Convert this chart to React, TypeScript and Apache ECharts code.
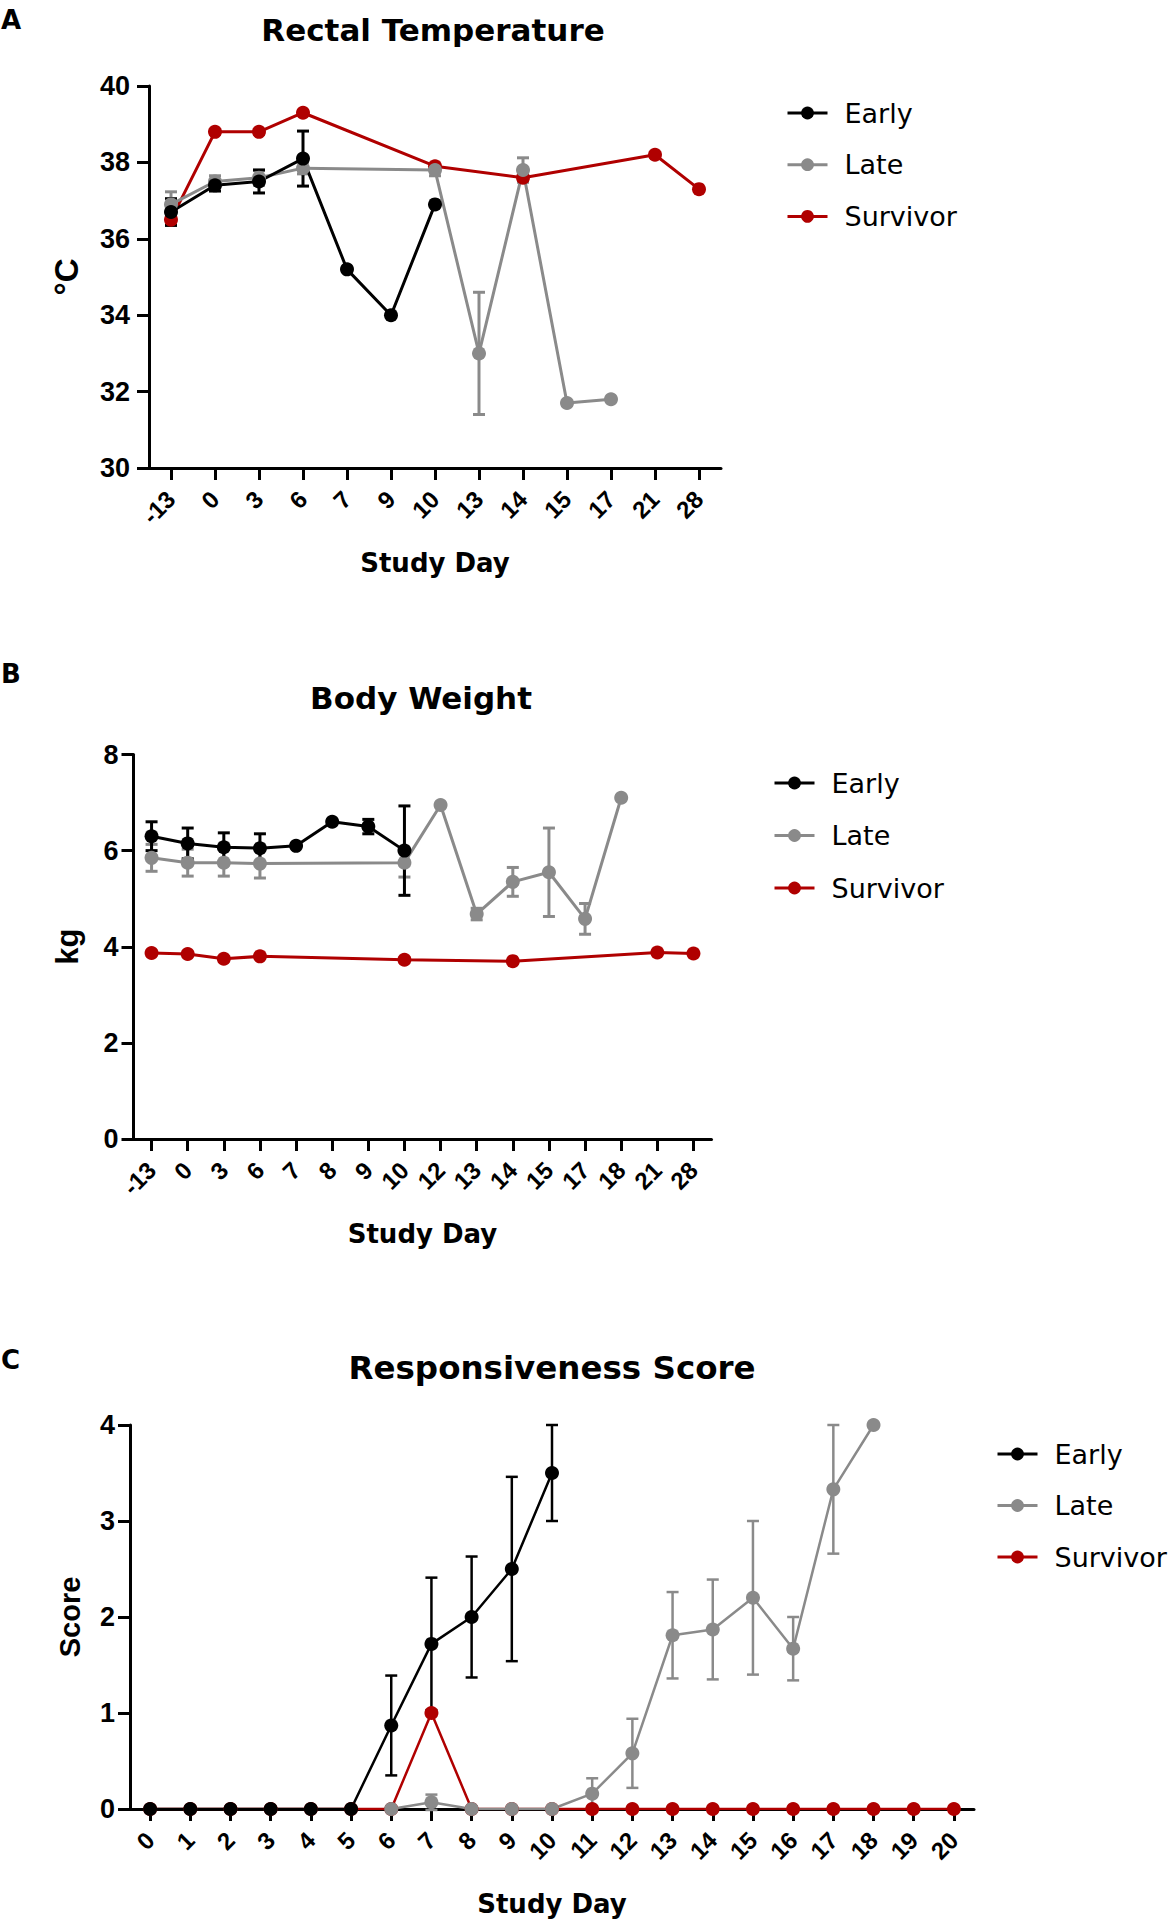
import React, { useEffect, useRef } from 'react';
import * as echarts from 'echarts';

// ---------- Panel A: Rectal Temperature ----------
const tempDays = ['-13', '0', '3', '6', '7', '9', '10', '13', '14', '15', '17', '21', '28'];
const tempEarly = [36.7, 37.4, 37.5, 38.1, 35.2, 34.0, 36.9, null, null, null, null, null, null];
const tempEarlyErr = [0.35, 0.15, 0.3, 0.72, null, null, null, null, null, null, null, null, null];
const tempLate = [36.9, 37.5, 37.6, 37.85, null, null, 37.8, 33.0, 37.8, 31.7, 31.8, null, null];
const tempLateErr = [0.33, 0.15, 0.2, 0.15, null, null, 0.15, 1.6, 0.32, null, null, null, null];
const tempSurvivor = [36.5, 38.8, 38.8, 39.3, null, null, 37.9, null, 37.6, null, null, 38.2, 37.3];

// ---------- Panel B: Body Weight ----------
const weightDays = ['-13', '0', '3', '6', '7', '8', '9', '10', '12', '13', '14', '15', '17', '18', '21', '28'];
const weightEarly = [6.3, 6.15, 6.07, 6.05, 6.1, 6.6, 6.5, 6.0, null, null, null, null, null, null, null, null];
const weightEarlyErr = [0.3, 0.32, 0.3, 0.3, null, null, 0.15, 0.93, null, null, null, null, null, null, null, null];
const weightLate = [5.85, 5.75, 5.75, 5.73, null, null, null, 5.75, 6.95, 4.68, 5.35, 5.55, 4.58, 7.1, null, null];
const weightLateErr = [0.28, 0.28, 0.28, 0.3, null, null, null, 0.3, null, 0.12, 0.3, 0.92, 0.32, null, null, null];
const weightSurvivor = [3.87, 3.85, 3.75, 3.8, null, null, null, 3.73, null, null, 3.7, null, null, null, 3.88, 3.86];

// ---------- Panel C: Responsiveness Score ----------
const scoreDays = ['0', '1', '2', '3', '4', '5', '6', '7', '8', '9', '10', '11', '12', '13', '14', '15', '16', '17', '18', '19', '20'];
const scoreEarly = [0, 0, 0, 0, 0, 0, 0.87, 1.72, 2.0, 2.5, 3.5, null, null, null, null, null, null, null, null, null, null];
const scoreEarlyErr = [null, null, null, null, null, null, 0.52, 0.69, 0.63, 0.96, 0.5, null, null, null, null, null, null, null, null, null, null];
const scoreLate = [null, null, null, null, null, null, 0, 0.07, 0, 0, 0, 0.16, 0.58, 1.81, 1.87, 2.2, 1.67, 3.33, 4.0, null, null];
const scoreLateErr = [null, null, null, null, null, null, null, 0.08, null, null, null, 0.16, 0.36, 0.45, 0.52, 0.8, 0.33, 0.67, null, null, null];
const scoreSurvivor = [0, 0, 0, 0, 0, 0, 0, 1, 0, 0, 0, 0, 0, 0, 0, 0, 0, 0, 0, 0, 0];

const groupNames = ['Early', 'Late', 'Survivor'];

const BLACK = '#000000';
const GRAY = '#8a8a8a';
const RED = '#b00000';
const SANS = 'DejaVu Sans';
const ARIAL = 'Liberation Sans';

function errData(vals: (number | null)[], errs: (number | null)[]) {
  const out: number[][] = [];
  vals.forEach((v, i) => {
    const e = errs[i];
    if (v != null && e != null) out.push([i, v - e, v + e]);
  });
  return out;
}

function errSeries(name: string, idx: number, vals: (number | null)[], errs: (number | null)[], color: string, lw: number) {
  return {
    type: 'custom',
    name,
    xAxisIndex: idx,
    yAxisIndex: idx,
    data: errData(vals, errs),
    encode: { x: 0, y: [1, 2] },
    silent: true,
    z: 3,
    renderItem: (params: any, api: any) => {
      const x = api.value(0);
      const lo = api.coord([x, api.value(1)]);
      const hi = api.coord([x, api.value(2)]);
      const w = 6;
      const st = { stroke: color, lineWidth: lw };
      return {
        type: 'group',
        children: [
          { type: 'line', shape: { x1: lo[0], y1: lo[1], x2: hi[0], y2: hi[1] }, style: st },
          { type: 'line', shape: { x1: lo[0] - w, y1: lo[1], x2: lo[0] + w, y2: lo[1] }, style: st },
          { type: 'line', shape: { x1: hi[0] - w, y1: hi[1], x2: hi[0] + w, y2: hi[1] }, style: st },
        ],
      };
    },
  };
}

function lineSeries(name: string, idx: number, data: (number | null)[], color: string, lw: number) {
  return {
    type: 'line',
    name,
    xAxisIndex: idx,
    yAxisIndex: idx,
    data,
    connectNulls: true,
    symbol: 'circle',
    symbolSize: 14,
    showAllSymbol: true,
    lineStyle: { color, width: lw },
    itemStyle: { color },
    emphasis: { disabled: true },
    silent: true,
    z: 3,
  };
}

function xAxisCfg(idx: number, cats: string[]) {
  return {
    type: 'category',
    gridIndex: idx,
    data: cats,
    boundaryGap: true,
    axisLine: { show: true, onZero: false, lineStyle: { color: BLACK, width: 3 } },
    axisTick: { show: true, alignWithLabel: true, length: 12, lineStyle: { color: BLACK, width: 3 } },
    axisLabel: { rotate: 45, interval: 0, margin: 27, fontSize: 24, fontWeight: 'bold', fontFamily: ARIAL, color: BLACK },
    splitLine: { show: false },
    name: 'Study Day',
    nameLocation: 'middle',
    nameGap: 82,
    nameTextStyle: { fontSize: 26, fontWeight: 'bold', fontFamily: SANS, color: BLACK },
  };
}

function yAxisCfg(idx: number, min: number, max: number, interval: number, name: string, nameGap: number, labelMargin: number, nameSize: number) {
  return {
    type: 'value',
    gridIndex: idx,
    min,
    max,
    interval,
    axisLine: { show: true, onZero: false, lineStyle: { color: BLACK, width: 3 } },
    axisTick: { show: true, length: 12, lineStyle: { color: BLACK, width: 3 } },
    axisLabel: { margin: labelMargin, fontSize: 27, fontWeight: 'bold', fontFamily: ARIAL, color: BLACK },
    splitLine: { show: false },
    name,
    nameLocation: 'middle',
    nameRotate: 90,
    nameGap,
    nameTextStyle: { fontSize: nameSize, fontWeight: 'bold', fontFamily: ARIAL, color: BLACK },
  };
}

function legendCfg(left: number, top: number, gap: number) {
  return {
    data: groupNames,
    orient: 'vertical',
    left,
    top,
    itemWidth: 40,
    itemHeight: 16,
    itemGap: gap,
    selectedMode: false,
    lineStyle: { width: 3 },
    textStyle: { fontSize: 27, fontFamily: SANS, color: BLACK, lineHeight: 30, padding: [0, 0, 0, 12] },
  };
}

function titleText(text: string, x: number, y: number, size: number) {
  return {
    type: 'text',
    x,
    y,
    style: { text, fontSize: size, fontWeight: 'bold', fontFamily: SANS, fill: BLACK, align: 'center', verticalAlign: 'middle' },
  };
}

function panelLetter(text: string, y: number) {
  return {
    type: 'text',
    x: 1,
    y,
    style: { text, fontSize: 26, fontWeight: 'bold', fontFamily: SANS, fill: BLACK, align: 'left', verticalAlign: 'middle' },
  };
}

const option = {
  animation: false,
  backgroundColor: '#ffffff',
  grid: [
    { left: 149, top: 86, width: 572, height: 382 },
    { left: 133.5, top: 754.5, width: 578, height: 384.5 },
    { left: 130, top: 1425, width: 844, height: 384 },
  ],
  xAxis: [xAxisCfg(0, tempDays), xAxisCfg(1, weightDays), xAxisCfg(2, scoreDays)],
  yAxis: [
    yAxisCfg(0, 30, 40, 2, '°C', 66, 19, 33),
    yAxisCfg(1, 0, 8, 2, 'kg', 51, 15, 31),
    yAxisCfg(2, 0, 4, 1, 'Score', 46, 15, 29),
  ],
  legend: [legendCfg(781, 93, 21.7), legendCfg(768, 763, 22.5), legendCfg(991, 1434, 21.5)],
  graphic: [
    panelLetter('A', 20),
    panelLetter('B', 674),
    panelLetter('C', 1360),
    titleText('Rectal Temperature', 433, 30, 31),
    titleText('Body Weight', 421, 698, 31),
    titleText('Responsiveness Score', 552, 1368, 32.5),
  ],
  series: [
    // Panel A
    lineSeries('Survivor', 0, tempSurvivor, RED, 3),
    errSeries('Late-err-A', 0, tempLate, tempLateErr, GRAY, 3),
    lineSeries('Late', 0, tempLate, GRAY, 3),
    errSeries('Early-err-A', 0, tempEarly, tempEarlyErr, BLACK, 3),
    lineSeries('Early', 0, tempEarly, BLACK, 3),
    // Panel B
    lineSeries('Survivor', 1, weightSurvivor, RED, 3),
    errSeries('Late-err-B', 1, weightLate, weightLateErr, GRAY, 3),
    lineSeries('Late', 1, weightLate, GRAY, 3),
    errSeries('Early-err-B', 1, weightEarly, weightEarlyErr, BLACK, 3),
    lineSeries('Early', 1, weightEarly, BLACK, 3),
    // Panel C
    lineSeries('Survivor', 2, scoreSurvivor, RED, 2.5),
    errSeries('Late-err-C', 2, scoreLate, scoreLateErr, GRAY, 2.5),
    lineSeries('Late', 2, scoreLate, GRAY, 2.5),
    errSeries('Early-err-C', 2, scoreEarly, scoreEarlyErr, BLACK, 2.5),
    lineSeries('Early', 2, scoreEarly, BLACK, 2.5),
  ],
};

export default function App() {
  const ref = useRef<HTMLDivElement>(null);
  useEffect(() => {
    if (!ref.current) return;
    const chart = echarts.init(ref.current, null, { renderer: 'svg' });
    chart.setOption(option as any);
    return () => {
      chart.dispose();
    };
  }, []);
  return (
    <div
      ref={ref}
      style={{ position: 'absolute', left: 0, top: 0, width: 1171, height: 1923, background: '#fff' }}
    />
  );
}
